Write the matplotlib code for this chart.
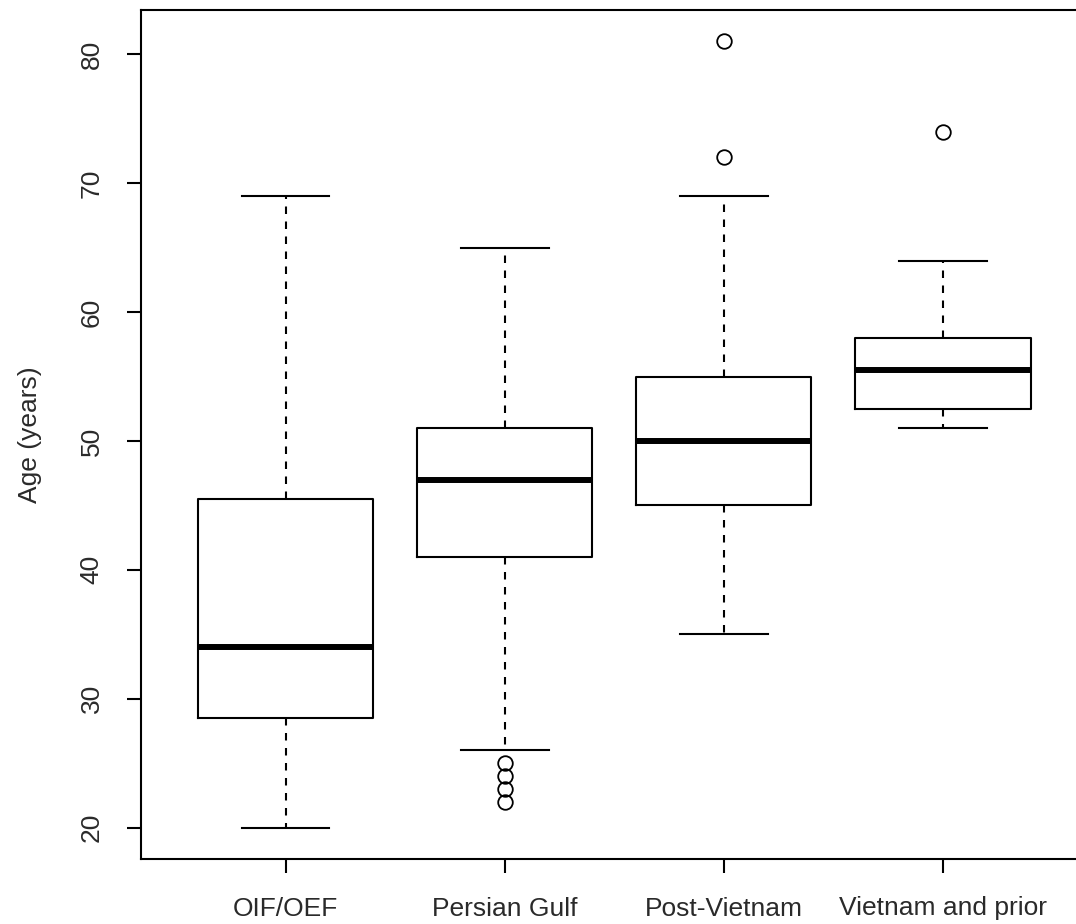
import numpy as np
import matplotlib
matplotlib.use("Agg")
import matplotlib.pyplot as plt

plt.rcParams['font.family'] = ['Liberation Sans', 'DejaVu Sans']

# box summary values
groups = ["OIF/OEF", "Persian Gulf", "Post-Vietnam", "Vietnam and prior"]
whis_lo = [20, 26, 35, 51]
q1 = [28.5, 41, 45, 52.5]
median = [34, 47, 50, 55.5]
q3 = [45.5, 51, 55, 58]
whis_hi = [69, 65, 69, 64]
outliers = [[], [25, 24, 23, 22], [81, 72], [74]]
yticks = [20, 30, 40, 50, 60, 70, 80]

stats = []
for i in range(len(groups)):
    stats.append(dict(label=groups[i], whislo=whis_lo[i], q1=q1[i], med=median[i],
                      q3=q3[i], whishi=whis_hi[i], fliers=outliers[i]))

fig = plt.figure(figsize=(10.76, 9.24), dpi=100)
ax = fig.add_axes([141/1076, 65/924, 946.5/1076, 849/924])

ax.bxp(stats, positions=[1, 2, 3, 4], widths=0.8, capwidths=0.4,
       boxprops=dict(color='black', lw=1.5),
       medianprops=dict(color='black', lw=4.3, solid_capstyle='butt'),
       whiskerprops=dict(color='black', lw=1.5, linestyle=(0, (3.6, 3.6))),
       capprops=dict(color='black', lw=1.5),
       flierprops=dict(marker='o', markerfacecolor='none', markeredgecolor='black',
                       markersize=10.5, markeredgewidth=1.3))

ax.set_xlim(0.34, 4.66)
ax.set_ylim(17.56, 83.44)
ax.set_yticks(yticks)
ax.set_yticklabels([str(v) for v in yticks], rotation=90, va='center')
ax.set_xticks([1, 2, 3, 4])
ax.set_xticklabels(groups)

ax.tick_params(axis='both', direction='out', length=10, width=1.5,
               labelsize=19, labelcolor='#2a2a2a')
ax.tick_params(axis='x', pad=17)
ax.tick_params(axis='y', pad=17)

for s in ['top', 'left', 'bottom', 'right']:
    ax.spines[s].set_linewidth(1.5)

ax.set_ylabel("Age (years)", fontsize=19, color='#2a2a2a')
ax.yaxis.set_label_coords((42 - 141) / 946.5, 0.5)

fig.savefig("out.png", dpi=100)
